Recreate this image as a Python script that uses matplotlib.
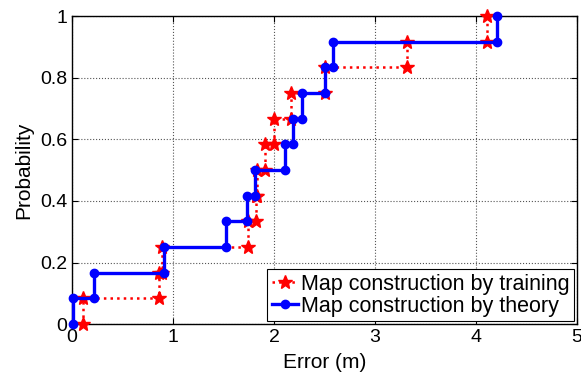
import numpy as np
import matplotlib
matplotlib.use('Agg')
import matplotlib.pyplot as plt
from matplotlib.ticker import FuncFormatter

plt.rcParams['font.family'] = ['Liberation Sans', 'DejaVu Sans']

# sorted errors (m), 12 samples each
err_training = [0.105, 0.86, 0.89, 1.74, 1.82, 1.83, 1.91, 2.00, 2.17, 2.505, 3.32, 4.11]
err_theory = [0.01, 0.22, 0.91, 1.52, 1.73, 1.81, 2.11, 2.185, 2.28, 2.51, 2.58, 4.21]
labels = ['Map construction by training', 'Map construction by theory']


def stair_path(errs):
    # empirical CDF: vertical jump at every sorted error
    n = len(errs)
    xs = np.repeat(errs, 2)
    ys = np.repeat(np.arange(n + 1) / n, 2)[1:-1]
    return xs, ys


fig, ax = plt.subplots(figsize=(5.81, 3.76), dpi=100)
fig.subplots_adjust(left=0.124, right=0.993, bottom=0.138, top=0.957)

x, y = stair_path(err_training)
ax.plot(x, y, color='red', linestyle=':', linewidth=1.8, marker='*',
        markersize=10, label=labels[0], zorder=3, clip_on=False)
x, y = stair_path(err_theory)
ax.plot(x, y, color='blue', linestyle='-', linewidth=2.4, marker='o',
        markersize=6, label=labels[1], zorder=4, clip_on=False)

ax.set_xlim(0, 5)
ax.set_ylim(0, 1)
ax.set_xticks(range(6))
ax.set_yticks(np.arange(0, 1.01, 0.2))
ax.yaxis.set_major_formatter(FuncFormatter(lambda v, p: f'{v:g}'))
ax.grid(True, color='#555555', linestyle=':', linewidth=0.8)
ax.tick_params(direction='in', top=True, right=True, labelsize=14, length=4)
for s in ax.spines.values():
    s.set_linewidth(1.0)
ax.set_xlabel('Error (m)', fontsize=15, labelpad=5)
ax.set_ylabel('Probability', fontsize=15, labelpad=5)

leg = ax.legend(loc='lower right', fontsize=15.5, handlelength=1.2,
                handletextpad=0.15, borderpad=0.2, labelspacing=0.05,
                borderaxespad=0.15, fancybox=False, framealpha=1)
leg.get_frame().set_edgecolor('black')
leg.get_frame().set_linewidth(0.8)
leg.set_zorder(5)

fig.savefig('out.png', dpi=100)
